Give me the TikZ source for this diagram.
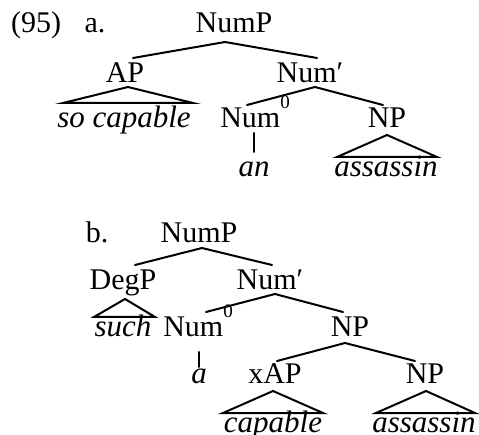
\documentclass[tikz,border=0pt]{standalone}
\usepackage{fontspec}
\setmainfont{Liberation Serif}
\newcommand{\zerobar}{\raisebox{19pt}{\fontsize{19}{21}\selectfont 0}}
\begin{document}
\begin{tikzpicture}[x=1pt,y=-1pt,
  lab/.style={inner sep=0pt,anchor=base,font=\fontsize{30}{34}\selectfont},
  word/.style={lab,font=\fontsize{31}{34}\selectfont\itshape},
  branch/.style={line width=2pt,line cap=round}]
\useasboundingbox (0,0) rectangle (479,435);

% ---- tree (a)
\node[lab] (ex) at (36,33) {(95)};
\node[lab] (la) at (95,33) {a.};
\node[lab] (a-NumP) at (234,33) {NumP};
\node[lab] (a-AP) at (125,83) {AP};
\node[lab] (a-Numbar) at (310,83) {Num′};
\node[word] (a-so) at (124,128) {so capable};
\node[lab] (a-Num0) at (255,128) {Num\zerobar};
\node[lab] (a-NP) at (387,128) {NP};
\node[word] (a-an) at (254,177) {an};
\node[word] (a-assassin) at (386,177) {assassin};

\coordinate (a-NumP-b) at (225,42);
\coordinate (a-AP-t) at (133,58);
\coordinate (a-Numbar-t) at (317,58);
\coordinate (a-AP-b) at (128,87);
\coordinate (a-so-l) at (63,103);
\coordinate (a-so-r) at (193,103);
\coordinate (a-Numbar-b) at (315,87);
\coordinate (a-Num0-t) at (247,105);
\coordinate (a-NP-t) at (383,105);
\coordinate (a-Num0-b) at (254,133);
\coordinate (a-an-t) at (254,152);
\coordinate (a-NP-b) at (387,135);
\coordinate (a-ass-l) at (337,157);
\coordinate (a-ass-r) at (437,157);

\draw[branch] (a-AP-t) -- (a-NumP-b) -- (a-Numbar-t);
\draw[branch] (a-so-l) -- (a-AP-b) -- (a-so-r) -- cycle;
\draw[branch] (a-Num0-t) -- (a-Numbar-b) -- (a-NP-t);
\draw[branch] (a-Num0-b) -- (a-an-t);
\draw[branch] (a-ass-l) -- (a-NP-b) -- (a-ass-r) -- cycle;

% ---- tree (b)
\node[lab] (lb) at (97,243) {b.};
\node[lab] (b-NumP) at (199,243) {NumP};
\node[lab] (b-DegP) at (123,290) {DegP};
\node[lab] (b-Numbar) at (270,290) {Num′};
\node[word] (b-such) at (123,337) {such};
\node[lab] (b-Num0) at (198,337) {Num\zerobar};
\node[lab] (b-NP) at (350,337) {NP};
\node[word] (b-a) at (199,383) {a};
\node[lab] (b-xAP) at (275,383) {xAP};
\node[lab] (b-NP2) at (425,383) {NP};
\node[word] (b-capable) at (273,432) {capable};
\node[word] (b-assassin) at (424,432) {assassin};

\coordinate (b-NumP-b) at (202,248);
\coordinate (b-DegP-t) at (135,265);
\coordinate (b-Numbar-t) at (272,265);
\coordinate (b-DegP-b) at (125,299);
\coordinate (b-such-l) at (94,317);
\coordinate (b-such-r) at (155,317);
\coordinate (b-Numbar-b) at (275,294);
\coordinate (b-Num0-t) at (206,312);
\coordinate (b-NP-t) at (343,312);
\coordinate (b-Num0-b) at (199,352);
\coordinate (b-a-t) at (199,367);
\coordinate (b-NP-b) at (345,343);
\coordinate (b-xAP-t) at (277,361);
\coordinate (b-NP2-t) at (415,361);
\coordinate (b-xAP-b) at (273,391);
\coordinate (b-cap-l) at (223,413);
\coordinate (b-cap-r) at (323,413);
\coordinate (b-NP2-b) at (426,391);
\coordinate (b-ass-l) at (376,413);
\coordinate (b-ass-r) at (475,413);

\draw[branch] (b-DegP-t) -- (b-NumP-b) -- (b-Numbar-t);
\draw[branch] (b-such-l) -- (b-DegP-b) -- (b-such-r) -- cycle;
\draw[branch] (b-Num0-t) -- (b-Numbar-b) -- (b-NP-t);
\draw[branch] (b-Num0-b) -- (b-a-t);
\draw[branch] (b-xAP-t) -- (b-NP-b) -- (b-NP2-t);
\draw[branch] (b-cap-l) -- (b-xAP-b) -- (b-cap-r) -- cycle;
\draw[branch] (b-ass-l) -- (b-NP2-b) -- (b-ass-r) -- cycle;
\end{tikzpicture}
\end{document}
